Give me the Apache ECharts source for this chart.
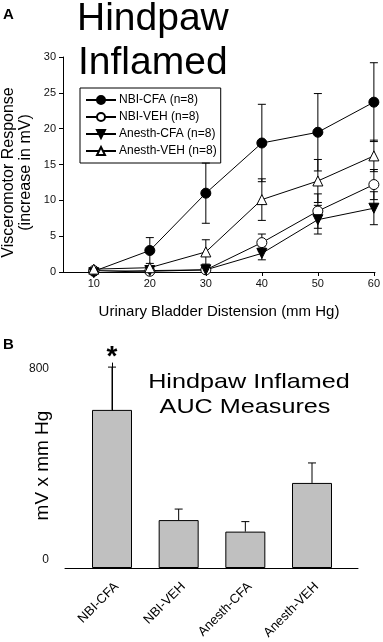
<!DOCTYPE html>
<html style="height: 100%">
<head>
	<meta charset="utf-8">
</head>
<body style="height: 100%; margin: 0; background: #fff">
<div id="container" style="width: 383px; height: 642px"></div>
<script type="text/javascript" src="https://cdn.jsdelivr.net/npm/echarts@6/dist/echarts.min.js"></script>
<script type="text/javascript">
    var dom = document.getElementById("container");
    var myChart = echarts.init(dom);
    var font = "'Liberation Sans', Arial, sans-serif";

    // panel A: response vs distension (mean, sem)
    var pressures = [10, 20, 30, 40, 50, 60];
    var nbiCfa = [0.1, 3.0, 11.0, 18.0, 19.5, 23.7];
    var nbiCfaErr = [0.2, 1.8, 4.2, 5.4, 5.4, 5.5];
    var nbiVeh = [0.2, 0.1, 0.3, 4.1, 8.5, 12.2];
    var nbiVehErr = [0.1, 0.2, 0.2, 1.2, 2.4, 2.1];
    var anesthCfa = [-0.1, 0.2, 0.3, 2.6, 7.3, 8.9];
    var anesthCfaErr = [0.1, 0.1, 0.2, 0.9, 2.0, 2.3];
    var anesthVeh = [0.4, 0.6, 2.8, 10.1, 12.7, 16.2];
    var anesthVehErr = [0.1, 0.2, 1.7, 2.9, 3.0, 2.2];
    var legendNames = ["NBI-CFA (n=8)", "NBI-VEH (n=8)", "Anesth-CFA (n=8)", "Anesth-VEH (n=8)"];

    // panel B: AUC
    var groups = ["NBI-CFA", "NBI-VEH", "Anesth-CFA", "Anesth-VEH"];
    var auc = [617, 187, 142, 332];
    var aucErr = [167, 43, 39, 78];
    var stars = ["*", "", "", ""];

    function pts(vals) {
        var out = [];
        for (var i = 0; i < vals.length; i++) out.push([pressures[i], vals[i]]);
        return out;
    }

    var errA = [];
    [[nbiCfa, nbiCfaErr], [nbiVeh, nbiVehErr], [anesthCfa, anesthCfaErr], [anesthVeh, anesthVehErr]].forEach(function (s) {
        for (var i = 0; i < pressures.length; i++) {
            errA.push([pressures[i], s[0][i] - s[1][i], s[0][i] + s[1][i]]);
        }
    });

    var barData = [], errB = [];
    for (var i = 0; i < groups.length; i++) {
        barData.push([i, auc[i]]);
        errB.push([i, auc[i], auc[i] + aucErr[i]]);
    }

    function errLines(api, both) {
        var x = api.value(0);
        var p1 = api.coord([x, api.value(1)]);
        var p2 = api.coord([x, api.value(2)]);
        var st = { stroke: '#000', lineWidth: 1 };
        var kids = [
            { type: 'line', shape: { x1: p1[0], y1: p1[1], x2: p2[0], y2: p2[1] }, style: st },
            { type: 'line', shape: { x1: p2[0] - 4, y1: p2[1], x2: p2[0] + 4, y2: p2[1] }, style: st }
        ];
        if (both) kids.push({ type: 'line', shape: { x1: p1[0] - 4, y1: p1[1], x2: p1[0] + 4, y2: p1[1] }, style: st });
        return { kids: kids, top: p2 };
    }

    function lineSeries(name, vals, symbol, fill, rotate) {
        return {
            name: name,
            type: 'line',
            xAxisIndex: 0,
            yAxisIndex: 0,
            data: pts(vals),
            symbol: symbol,
            symbolSize: 10,
            symbolRotate: rotate || 0,
            showAllSymbol: true,
            clip: false,
            z: 3,
            lineStyle: { color: '#000', width: 1 },
            itemStyle: { color: fill, borderColor: '#000', borderWidth: 1 },
            emphasis: { disabled: true }
        };
    }

    var option = {
        backgroundColor: '#fff',
        animation: false,
        textStyle: { fontFamily: font },
        grid: [
            { left: 63, top: 57, width: 312, height: 215, outerBoundsMode: 'none', containLabel: false },
            { left: 65, top: 363, width: 293, height: 205, outerBoundsMode: 'none', containLabel: false }
        ],
        legend: {
            data: legendNames,
            orient: 'vertical',
            left: 80,
            top: 88,
            padding: [6, 4, 6, 5],
            itemGap: 5,
            itemWidth: 30,
            itemHeight: 10,
            borderColor: '#000',
            borderWidth: 1,
            textStyle: { fontFamily: font, fontSize: 12, color: '#000', padding: [0, 0, 0, -2] }
        },
        xAxis: [{
            type: 'value',
            gridIndex: 0,
            min: 4.5,
            max: 60.2,
            name: 'Urinary Bladder Distension (mm Hg)',
            nameLocation: 'middle',
            nameGap: 32,
            nameMoveOverlap: false,
            nameTextStyle: { fontFamily: font, fontSize: 15, color: '#000' },
            splitLine: { show: false },
            axisLine: { lineStyle: { color: '#000', width: 1 } },
            axisTick: { customValues: pressures, length: 4, lineStyle: { color: '#000' } },
            axisLabel: { customValues: pressures, margin: 6, fontSize: 11, color: '#111', fontFamily: font }
        }, {
            type: 'value',
            gridIndex: 1,
            min: -0.705,
            max: 3.69,
            splitLine: { show: false },
            axisLine: { lineStyle: { color: '#000', width: 1 } },
            axisTick: { show: false },
            axisLabel: {
                customValues: [0, 1, 2, 3],
                rotate: 45,
                margin: 12,
                verticalAlign: 'top',
                fontSize: 13,
                color: '#000',
                fontFamily: font,
                formatter: function (v) { return groups[Math.round(v)]; }
            }
        }],
        yAxis: [{
            type: 'value',
            gridIndex: 0,
            min: 0,
            max: 30,
            interval: 5,
            name: 'Visceromotor Response\n(increase in mV)',
            nameLocation: 'middle',
            nameGap: 29,
            nameMoveOverlap: false,
            nameTextStyle: { fontFamily: font, fontSize: 16, lineHeight: 17, color: '#000', padding: [0, 16, 0, 0] },
            splitLine: { show: false },
            axisLine: { show: true, lineStyle: { color: '#000', width: 1 } },
            axisTick: { show: true, length: 4, lineStyle: { color: '#000' } },
            axisLabel: { margin: 7, fontSize: 11, color: '#111', fontFamily: font }
        }, {
            type: 'value',
            gridIndex: 1,
            min: 0,
            max: 800,
            interval: 800,
            name: 'mV x mm Hg',
            nameLocation: 'middle',
            nameGap: 13,
            nameMoveOverlap: false,
            nameTextStyle: { fontFamily: font, fontSize: 19, color: '#000' },
            splitLine: { show: false },
            axisLine: { show: true, lineStyle: { color: '#000', width: 1 } },
            axisTick: { show: false },
            axisLabel: {
                margin: 16,
                fontSize: 12,
                color: '#111',
                fontFamily: font,
                formatter: function (v) { return v === 0 ? '{lo|0}' : '{hi|' + v + '}'; },
                rich: {
                    lo: { fontSize: 12, fontFamily: font, color: '#111', padding: [0, 0, 16, 0] },
                    hi: { fontSize: 12, fontFamily: font, color: '#111', padding: [12, 0, 0, 0] }
                }
            }
        }],
        graphic: [
            { type: 'text', left: 3, top: 7, style: { text: 'A', fontSize: 15, fontWeight: 'bold', fontFamily: font, fill: '#000' } },
            { type: 'text', left: 3, top: 337, style: { text: 'B', fontSize: 15, fontWeight: 'bold', fontFamily: font, fill: '#000' } },
            { type: 'text', x: 77, y: 19, style: { text: 'Hindpaw', fontSize: 39, fontFamily: font, fill: '#000', align: 'left', verticalAlign: 'middle' } },
            { type: 'text', x: 78, y: 63, style: { text: 'Inflamed', fontSize: 39, fontFamily: font, fill: '#000', align: 'left', verticalAlign: 'middle' } },
            { type: 'text', x: 249, y: 382.6, scaleX: 1.2, style: { text: 'Hindpaw Inflamed', fontSize: 21, fontFamily: font, fill: '#000', align: 'center', verticalAlign: 'middle' } },
            { type: 'text', x: 245, y: 407.7, scaleX: 1.2, style: { text: 'AUC Measures', fontSize: 21, fontFamily: font, fill: '#000', align: 'center', verticalAlign: 'middle' } }
        ],
        series: [
            {
                type: 'custom',
                xAxisIndex: 0,
                yAxisIndex: 0,
                z: 1,
                silent: true,
                clip: false,
                data: errA,
                encode: { x: 0, y: [1, 2] },
                renderItem: function (params, api) {
                    return { type: 'group', children: errLines(api, true).kids };
                }
            },
            lineSeries(legendNames[0], nbiCfa, 'circle', '#000'),
            lineSeries(legendNames[1], nbiVeh, 'circle', '#fff'),
            lineSeries(legendNames[2], anesthCfa, 'triangle', '#000', 180),
            lineSeries(legendNames[3], anesthVeh, 'triangle', '#fff'),
            {
                type: 'custom',
                xAxisIndex: 1,
                yAxisIndex: 1,
                z: 1,
                silent: true,
                clip: false,
                data: errB,
                encode: { x: 0, y: [1, 2] },
                renderItem: function (params, api) {
                    var e = errLines(api, false);
                    var star = stars[params.dataIndex];
                    if (star) {
                        e.kids.push({
                            type: 'text',
                            x: e.top[0],
                            y: e.top[1] - 10,
                            style: { text: star, fontSize: 28, fontWeight: 'bold', fontFamily: font, fill: '#000', align: 'center', verticalAlign: 'middle' }
                        });
                    }
                    return { type: 'group', children: e.kids };
                }
            },
            {
                type: 'bar',
                xAxisIndex: 1,
                yAxisIndex: 1,
                z: 2,
                barWidth: 40,
                data: barData,
                itemStyle: { color: '#c0c0c0', borderColor: '#000', borderWidth: 1 },
                emphasis: { disabled: true }
            }
        ]
    };

    myChart.setOption(option, true);
</script>
</body>
</html>
